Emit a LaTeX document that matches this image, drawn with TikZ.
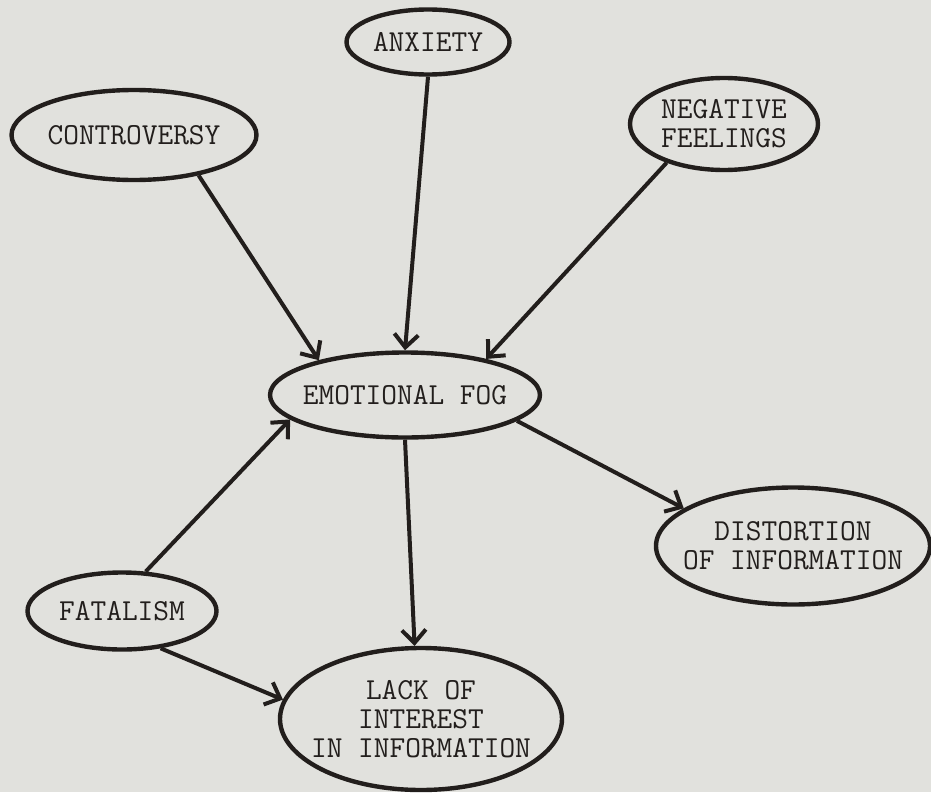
\documentclass[tikz,border=0pt]{standalone}
\usetikzlibrary{shapes.geometric,arrows.meta}
\definecolor{paper}{RGB}{225,225,221}
\definecolor{ink}{RGB}{34,30,28}
\begin{document}
\begin{tikzpicture}[x=1pt,y=-1pt,
  bubble/.style={ellipse, draw=ink, line width=4.4pt, inner sep=-40pt, align=center,
    text=ink, font=\fontsize{30.5}{29}\selectfont\ttfamily},
  link/.style={draw=ink, line width=4pt, -{Straight Barb[length=13pt,width=24pt,line width=4pt]}}]
% Pozadi
\fill[paper] (0,0) rectangle (931,792);
\useasboundingbox (0,0) rectangle (931,792);
% Uzly
\node[bubble, minimum width=163pt, minimum height=65pt] (anxiety) at (428,42) {ANXIETY};
\node[bubble, minimum width=245pt, minimum height=90pt] (contro) at (134,135) {CONTROVERSY};
\node[bubble, minimum width=188pt, minimum height=92pt] (negative) at (724,124) {NEGATIVE\\FEELINGS};
\node[bubble, minimum width=270pt, minimum height=85pt] (fog) at (405,395) {EMOTIONAL FOG};
\node[bubble, minimum width=274pt, minimum height=117pt] (distort) at (793,546) {DISTORTION\\OF INFORMATION};
\node[bubble, minimum width=189pt, minimum height=77pt] (fatal) at (122,611) {FATALISM};
\node[bubble, minimum width=282pt, minimum height=142pt] (lack) at (421,719) {LACK OF\\INTEREST\\IN INFORMATION};
% Sipky
\draw[link] (contro.-32) -- (fog.158);
\draw[link] (anxiety.south) -- (fog.north);
\draw[link] (negative.214) -- (fog.24);
\draw[link] (fatal.59) -- (fog.192);
\draw[link] (fog.south) -- (lack.95);
\draw[link] (fog.-13) -- (distort.161);
\draw[link] (fatal.-44) -- (lack.172);
\end{tikzpicture}
\end{document}
